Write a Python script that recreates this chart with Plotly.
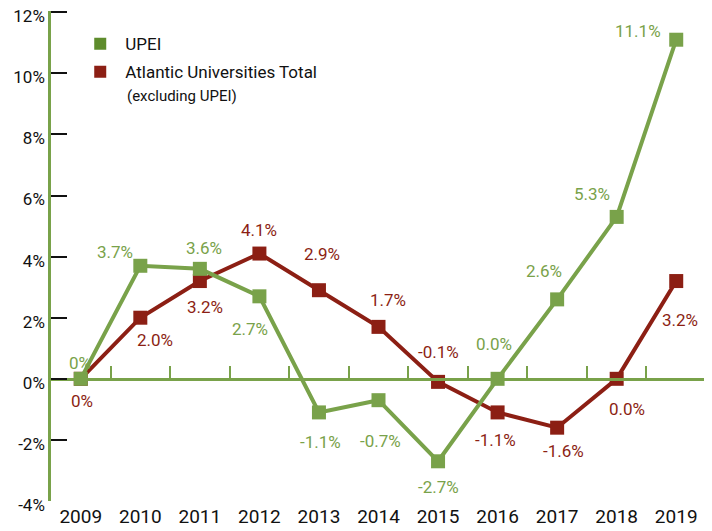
import plotly.graph_objects as go

years = ["2009", "2010", "2011", "2012", "2013", "2014", "2015", "2016", "2017", "2018", "2019"]
upei = [0.0, 3.7, 3.6, 2.7, -1.1, -0.7, -2.7, 0.0, 2.6, 5.3, 11.1]
atlantic = [0.0, 2.0, 3.2, 4.1, 2.9, 1.7, -0.1, -1.1, -1.6, 0.0, 3.2]
upei_labels = ["0%", "3.7%", "3.6%", "2.7%", "-1.1%", "-0.7%", "-2.7%", "0.0%", "2.6%", "5.3%", "11.1%"]
atl_labels = ["0%", "2.0%", "3.2%", "4.1%", "2.9%", "1.7%", "-0.1%", "-1.1%", "-1.6%", "0.0%", "3.2%"]
y_ticks = [-4, -2, 0, 2, 4, 6, 8, 10, 12]

GREEN = "#79A24A"
GREEN_LEG = "#5E8C2C"
RED = "#8C1F14"
FONT = "Roboto"

# label offsets in pixels (dx, dy), style only
upei_off = [(-1, 16), (-25, 14), (4, 21), (-9, -33), (2, -30), (2, -41),
            (0, -26), (-4, 35), (-13, 28), (-25, 23), (-38, 9)]
atl_off = [(1, -22), (15, -22), (5, -26), (0, 24), (3, 36), (9, 27),
           (0, 30), (-2, -28), (6, -23), (10, -30), (4, -39)]

xs = list(range(len(years)))

fig = go.Figure()
fig.add_trace(go.Scatter(
    x=xs, y=atlantic, mode="lines+markers",
    line=dict(color=RED, width=4), marker=dict(symbol="square", size=14, color=RED),
    showlegend=False, cliponaxis=False))
fig.add_trace(go.Scatter(
    x=xs, y=upei, mode="lines+markers",
    line=dict(color=GREEN, width=4), marker=dict(symbol="square", size=14, color=GREEN),
    showlegend=False, cliponaxis=False))
# legend entries
fig.add_trace(go.Scatter(x=[None], y=[None], mode="markers", name="UPEI", legendgroup="a",
                         marker=dict(symbol="square", size=18, color=GREEN_LEG)))
fig.add_trace(go.Scatter(x=[None], y=[None], mode="markers", legendgroup="b",
                         name="Atlantic Universities Total",
                         marker=dict(symbol="square", size=18, color=RED)))
# dummy trace for the zero-line tick axis
fig.add_trace(go.Scatter(x=[None], y=[None], xaxis="x2", showlegend=False))

annotations = []
for x, v, t, (dx, dy) in zip(xs, upei, upei_labels, upei_off):
    annotations.append(dict(x=x, y=v, text=t, showarrow=False, xshift=dx, yshift=dy,
                            font=dict(color=GREEN, size=17, family=FONT)))
for x, v, t, (dx, dy) in zip(xs, atlantic, atl_labels, atl_off):
    annotations.append(dict(x=x, y=v, text=t, showarrow=False, xshift=dx, yshift=dy,
                            font=dict(color=RED, size=17, family=FONT)))
annotations.append(dict(x=0.113, y=0.826, xref="paper", yref="paper", xanchor="left", yanchor="middle",
                        text="(excluding UPEI)", showarrow=False,
                        font=dict(color="#111111", size=15, family=FONT)))

# page body has an 8px margin; figure is sized/offset to compensate
fig.update_layout(
    width=704, height=523,
    margin=dict(l=43, r=6, t=3, b=30),
    plot_bgcolor="white", paper_bgcolor="white",
    font=dict(family=FONT, size=17, color="#111111"),
    annotations=annotations,
    xaxis=dict(range=[-0.5, 10.5], tickvals=xs, ticktext=years, showgrid=False, zeroline=False,
               showline=False, ticks="", automargin=False, ticklabelstandoff=2,
               tickfont=dict(size=19, color="#111111")),
    xaxis2=dict(range=[-0.5, 10.5], overlaying="x", anchor="free", position=4 / 16.04, side="top",
                tickvals=[i + 0.5 for i in xs], showticklabels=False, ticks="outside", ticklen=12,
                tickwidth=2, tickcolor=GREEN, showline=True, linecolor=GREEN, linewidth=2.5,
                showgrid=False, zeroline=False, automargin=False),
    yaxis=dict(range=[-4, 12.04], tickvals=y_ticks, ticktext=[f"{v}%" for v in y_ticks],
               showgrid=False, zeroline=False, showline=True, linecolor=GREEN, linewidth=2.5,
               ticks="inside", ticklen=16, tickwidth=2, tickcolor="#111111", automargin=False,
               ticklabeloverflow="allow", ticklabelshift=4,
               tickfont=dict(size=17, color="#111111")),
    legend=dict(x=0.037, y=0.969, xanchor="left", yanchor="top", bgcolor="rgba(0,0,0,0)",
                font=dict(size=17, color="#111111", family=FONT), itemsizing="constant",
                itemwidth=40, tracegroupgap=3, valign="middle"),
)

fig.write_html("out.html")
